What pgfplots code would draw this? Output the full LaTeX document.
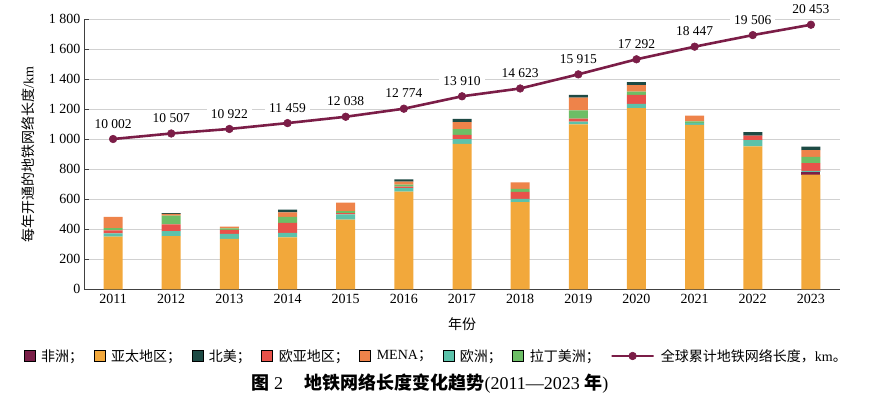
\documentclass[border=0pt]{standalone}
\usepackage{fontspec}
\setmainfont{Liberation Serif}
\newfontfamily\cjk{Noto Sans CJK SC}
\usepackage{pgfplots}
\pgfplotsset{compat=1.18}
\usepackage{pgfplotstable}

\definecolor{cAfrica}{HTML}{7A1F48}
\definecolor{cAsia}{HTML}{F2A83B}
\definecolor{cNA}{HTML}{1D4A44}
\definecolor{cEurasia}{HTML}{E8524A}
\definecolor{cMENA}{HTML}{EE834A}
\definecolor{cEurope}{HTML}{5CC2AA}
\definecolor{cLatam}{HTML}{6DBE66}
\definecolor{cLine}{HTML}{7B1D47}

\pgfplotsset{
  legsq/.style={legend image code/.code={\fill[##1] (0pt,-5.5pt) rectangle (11pt,5.5pt);}},
  legln/.style={legend image code/.code={\draw[mark repeat=2,mark phase=2,##1] plot coordinates {(0pt,0pt) (11.5pt,0pt) (23pt,0pt)};}},
}

\pgfplotstableread{
year asia africa europe eurasia latam mena na
2011 350 0 22 20 15 75 0
2012 354 0 33 46 57 13 4
2013 336 0 33 26 10 12 0
2014 345 0 30 68 40 30 17
2015 464 0 35 8 14 56 0
2016 651 0 22 11 13 20 15
2017 969 0 31 29 38 46 22
2018 580 0 22 46 20 44 0
2019 1099 0 18 20 55 84 18
2020 1206 0 29 60 22 42 20
2021 1095 0 14 0 10 37 0
2022 951 0 42 31 0 0 22
2023 764 18 7 51 42 44 24
}\bars

\pgfplotstableread[col sep=comma]{
year,len,label
2011,10002,10 002
2012,10507,10 507
2013,10922,10 922
2014,11459,11 459
2015,12038,12 038
2016,12774,12 774
2017,13910,13 910
2018,14623,14 623
2019,15915,15 915
2020,17292,17 292
2021,18447,18 447
2022,19506,19 506
2023,20453,20 453
}\cum

\begin{document}
\begin{tikzpicture}
\useasboundingbox (0,0) rectangle (869pt,395pt);
\begin{axis}[
  at={(84pt,105.7pt)}, anchor=south west,
  scale only axis, width=756pt, height=270.3pt,
  xmin=2010.5, xmax=2023.5, ymin=0, ymax=1800,
  ybar stacked, bar width=19pt,
  axis x line*=bottom, axis y line*=left,
  axis line style={-, draw=black!75, line width=0.9pt},
  xtick={2011,...,2023},
  xticklabel style={/pgf/number format/1000 sep={}, yshift=-1pt},
  xtick style={draw=none},
  ytick={0,200,...,1800},
  yticklabels={0,200,400,600,800,1 000,1 200,1 400,1 600,1 800},
  tick align=inside, major tick length=5pt,
  ytick style={draw=black!75, line width=0.8pt},
  ymajorgrids, grid style={black!18, line width=0.8pt},
  ticklabel style={font=\fontsize{14}{14}\selectfont},
  /pgf/number format/assume math mode=true,
  xlabel={\cjk 年份},
  ylabel={{\cjk 每年开通的地铁网络长度}/km},
  every axis x label/.style={at={(axis description cs:0.5,-0.1284)}, anchor=center, font=\fontsize{14}{14}\selectfont},
  every axis y label/.style={at={(axis description cs:-0.0741,0.5)}, rotate=90, anchor=center, font=\fontsize{14}{14}\selectfont},
  legend columns=8,
  legend style={at={(0.466,-0.2468)}, anchor=center, draw=none, fill=none,
    font=\cjk\fontsize{14}{14}\selectfont,
    /tikz/every even column/.append style={column sep=8.5pt},
    /tikz/every odd column/.append style={column sep=4pt}},
]
\addplot[forget plot, fill=cAsia, draw=none] table[x=year,y=asia]{\bars};
\addplot[forget plot, fill=cAfrica, draw=none] table[x=year,y=africa]{\bars};
\addplot[forget plot, fill=cEurope, draw=none] table[x=year,y=europe]{\bars};
\addplot[forget plot, fill=cEurasia, draw=none] table[x=year,y=eurasia]{\bars};
\addplot[forget plot, fill=cLatam, draw=none] table[x=year,y=latam]{\bars};
\addplot[forget plot, fill=cMENA, draw=none] table[x=year,y=mena]{\bars};
\addplot[forget plot, fill=cNA, draw=none] table[x=year,y=na]{\bars};

\addlegendimage{legsq, fill=cAfrica}
\addlegendentry{非洲；}
\addlegendimage{legsq, fill=cAsia}
\addlegendentry{亚太地区；}
\addlegendimage{legsq, fill=cNA}
\addlegendentry{北美；}
\addlegendimage{legsq, fill=cEurasia}
\addlegendentry{欧亚地区；}
\addlegendimage{legsq, fill=cMENA}
\addlegendentry{{\rmfamily MENA}；}
\addlegendimage{legsq, fill=cEurope}
\addlegendentry{欧洲；}
\addlegendimage{legsq, fill=cLatam}
\addlegendentry{拉丁美洲；}
\addlegendimage{legln, cLine, line width=2.6pt, mark=*, mark size=3.8pt, mark options={fill=cLine, line width=0.6pt}}
\addlegendentry{全球累计地铁网络长度，{\rmfamily km}。}
\end{axis}

\begin{axis}[
  at={(84pt,105.7pt)}, anchor=south west,
  scale only axis, width=756pt, height=270.3pt,
  xmin=2010.5, xmax=2023.5, ymin=-3740, ymax=20978,
  hide axis, clip=false,
]
\addplot[cLine, line width=2.6pt, mark=*, mark size=3.8pt,
  mark options={fill=cLine, line width=0.6pt},
  nodes near coords, point meta=explicit symbolic,
  every node near coord/.append style={font=\fontsize{13.5}{13.5}\selectfont, fill=white, text=black,
    inner sep=1pt, inner xsep=4pt, yshift=9.5pt}]
  table[x=year, y=len, meta=label]{\cum};
\end{axis}

\node[anchor=center] at (430pt,11pt) {\fontsize{18}{18}\selectfont{\cjk\bfseries 图} 2\hspace{1.2em}{\cjk\bfseries 地铁网络长度变化趋势}(2011—2023 {\cjk\bfseries 年})};
\end{tikzpicture}
\end{document}
